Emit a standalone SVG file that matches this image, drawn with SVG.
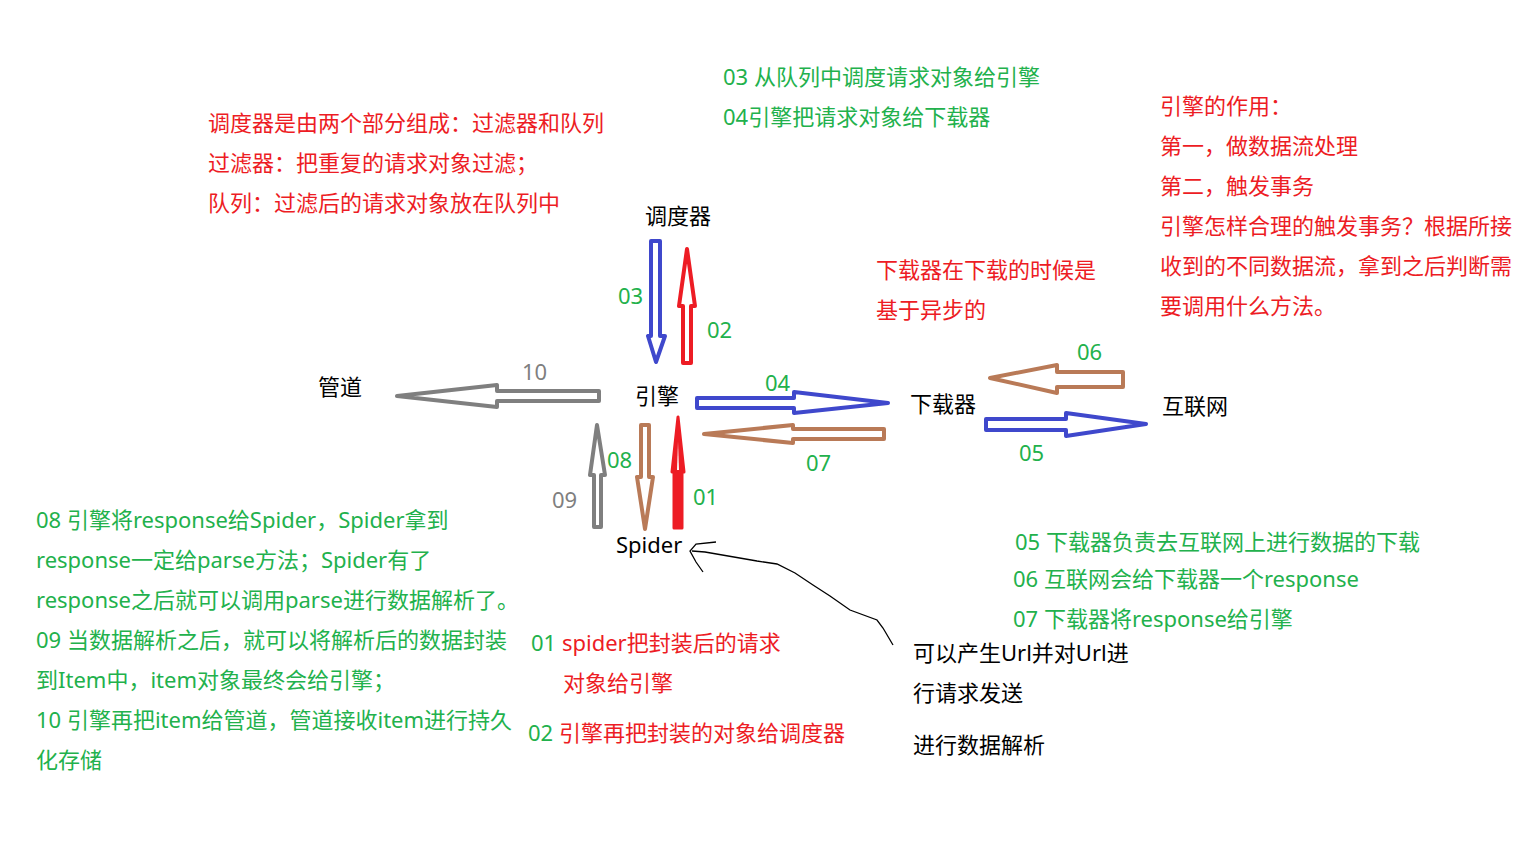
<svg xmlns="http://www.w3.org/2000/svg" width="1536" height="864" viewBox="0 0 1536 864">
<style>
text{font-family:"Noto Sans","Noto Sans CJK SC",sans-serif;font-size:22px}
.k{fill:#000}
.r{fill:#ED1C24}
.g{fill:#22B14C}
.gy{fill:#7F7F7F}
.a{fill:#fff;stroke-width:4;stroke-linejoin:round}
.blue{stroke:#3F48CC}
.red{stroke:#ED1C24}
.brown{stroke:#B97A57}
.gray{stroke:#7F7F7F}
</style>
<rect width="1536" height="864" fill="#fff"/>

<g id="connectors">
  <polygon id="a03" class="a blue" points="651,241 660,241 660,336 665,336 656,362 648,336 651,336"/>
  <polygon id="a02" class="a red" stroke-width="5" points="683,363 691,363 691,306 695,306 687,249 679,306 683,306"/>
  <polygon id="a10" class="a gray" points="599,391 599,401 497,401 497,407 397,396 497,385 497,391"/>
  <polygon id="a04" class="a blue" points="697,398 794,398 794,392 888,403 794,413 794,408 697,408"/>
  <polygon id="a07" class="a brown" points="884,429 884,439 793,439 793,443 704,434 793,425 793,429"/>
  <polygon id="a06" class="a brown" points="1123,372 1123,387 1057,387 1057,393 990,378 1057,365 1057,372"/>
  <polygon id="a05" class="a blue" points="986,419 1066,419 1066,413 1146,424 1066,436 1066,430 986,430"/>
  <polygon id="a08" class="a brown" points="641,425 649,425 649,477 653,477 645,529 637,477 641,477"/>
  <polygon id="a09" class="a gray" points="594,527 601,527 601,475 605,475 597,425 590,475 594,475"/>
  <polygon id="a01" fill="#ED1C24" stroke="#ED1C24" stroke-width="3" stroke-linejoin="round" points="674,528 682,528 682,472 684,472 678,417 672,472 674,472"/>
  <polygon fill="#fff" points="677,470 679,470 678,442"/>
  <path id="hand" fill="none" stroke="#000" stroke-width="1.3" d="M893,645 L883,628 L877,620 L850,610 L830,596 L813,585 L795,573 L777,564 L757,561 L705,552 L692,551 M716,542 L696,544 L690,551 L696,562 L703,572"/>
</g>

<g id="node-scheduler"><text class="k" x="645" y="224">调度器</text></g>
<g id="node-engine"><text class="k" x="635" y="404">引擎</text></g>
<g id="node-pipeline"><text class="k" x="318" y="395">管道</text></g>
<g id="node-downloader"><text class="k" x="910" y="412">下载器</text></g>
<g id="node-internet"><text class="k" x="1162" y="414">互联网</text></g>
<g id="node-spider"><text class="k" x="616" y="553">Spider</text></g>

<g id="labels">
  <text class="g" x="618" y="304">03</text>
  <text class="g" x="707" y="338">02</text>
  <text class="gy" x="522" y="380">10</text>
  <text class="g" x="765" y="391">04</text>
  <text class="g" x="1077" y="360">06</text>
  <text class="g" x="1019" y="461">05</text>
  <text class="g" x="806" y="471">07</text>
  <text class="g" x="607" y="468">08</text>
  <text class="gy" x="552" y="508">09</text>
  <text class="g" x="693" y="505">01</text>
</g>

<g id="notes">
  <text class="g" x="723" y="85">03 从队列中调度请求对象给引擎</text>
  <text class="g" x="723" y="125">04引擎把请求对象给下载器</text>

  <text class="r" x="208" y="131">调度器是由两个部分组成：过滤器和队列</text>
  <text class="r" x="208" y="171">过滤器：把重复的请求对象过滤；</text>
  <text class="r" x="208" y="211">队列：过滤后的请求对象放在队列中</text>

  <text class="r" x="1160" y="114">引擎的作用：</text>
  <text class="r" x="1160" y="154">第一，做数据流处理</text>
  <text class="r" x="1160" y="194">第二，触发事务</text>
  <text class="r" x="1160" y="234">引擎怎样合理的触发事务？根据所接</text>
  <text class="r" x="1160" y="274">收到的不同数据流，拿到之后判断需</text>
  <text class="r" x="1160" y="314">要调用什么方法。</text>

  <text class="r" x="876" y="278">下载器在下载的时候是</text>
  <text class="r" x="876" y="318">基于异步的</text>

  <text class="g" x="36" y="528">08 引擎将response给Spider，Spider拿到</text>
  <text class="g" x="36" y="568">response一定给parse方法；Spider有了</text>
  <text class="g" x="36" y="608">response之后就可以调用parse进行数据解析了。</text>
  <text class="g" x="36" y="648">09 当数据解析之后，就可以将解析后的数据封装</text>
  <text class="g" x="36" y="688">到Item中，item对象最终会给引擎；</text>
  <text class="g" x="36" y="728">10 引擎再把item给管道，管道接收item进行持久</text>
  <text class="g" x="36" y="768">化存储</text>

  <text x="531" y="651"><tspan class="g">01 </tspan><tspan class="r">spider把封装后的请求</tspan></text>
  <text class="r" x="563" y="691">对象给引擎</text>
  <text x="528" y="741"><tspan class="g">02 </tspan><tspan class="r">引擎再把封装的对象给调度器</tspan></text>

  <text class="g" x="1015" y="550">05 下载器负责去互联网上进行数据的下载</text>
  <text class="g" x="1013" y="587">06 互联网会给下载器一个response</text>
  <text class="g" x="1013" y="627">07 下载器将response给引擎</text>

  <text class="k" x="913" y="661">可以产生Url并对Url进</text>
  <text class="k" x="913" y="701">行请求发送</text>
  <text class="k" x="913" y="753">进行数据解析</text>
</g>
</svg>
